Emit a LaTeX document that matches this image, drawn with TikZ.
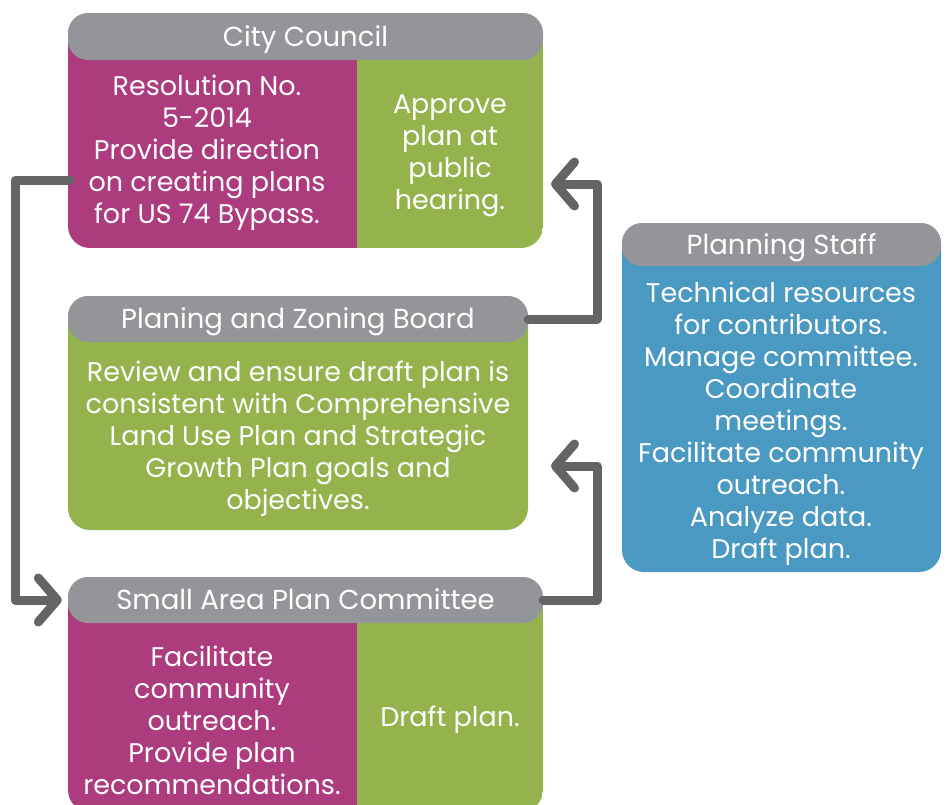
\documentclass[tikz,border=0pt]{standalone}
\usepackage{fontspec}
\setmainfont{Poppins}
\usetikzlibrary{arrows.meta}
\definecolor{hdgray}{HTML}{939598}
\definecolor{plum}{HTML}{AC3C7E}
\definecolor{leaf}{HTML}{94B34D}
\definecolor{sky}{HTML}{4A99C2}
\definecolor{wire}{HTML}{636466}
\tikzset{
  head/.style={fill=hdgray, rounded corners=20, text=white, inner sep=0,
    text height=19, text depth=0,
    font=\fontsize{27.5}{32}\selectfont},
  txt/.style={text=white, align=center, inner sep=0, yshift=-3,
    font=\fontsize{27}{32}\selectfont},
  link/.style={draw=wire, line width=9, line cap=round, line join=round,
    -{Straight Barb[length=19,width=44,round]}},
}
\begin{document}
\begin{tikzpicture}[x=1pt,y=-1pt]
\clip (0,0) rectangle (946,804);

% fixed points where the loops leave or enter a box
\coordinate (cc-out) at (70,180);
\coordinate (cc-in) at (551,184);
\coordinate (pz-in) at (551,466);

% City Council
\begin{scope}
  \clip[rounded corners=22] (68,13) rectangle (543,248);
  \fill[plum] (68,13) rectangle (357,248);
  \fill[leaf] (357,13) rectangle (543,248);
\end{scope}
\node[head, minimum width=475, minimum height=47] (cc-head) at (305.5,36.5) {City Council};
\node[txt] (cc-res) at (207,150) {Resolution No.\\5-2014\\Provide direction\\on creating plans\\for US 74 Bypass.};
\node[txt] (cc-app) at (450,153) {Approve\\plan at\\public\\hearing.};

% Planing and Zoning Board
\fill[leaf, rounded corners=22] (68,296) rectangle (528,530);
\node[head, minimum width=460, minimum height=46] (pz-head) at (298,319) {Planing and Zoning Board};
\node[txt] (pz-body) at (298,436) {Review and ensure draft plan is\\consistent with Comprehensive\\Land Use Plan and Strategic\\Growth Plan goals and\\objectives.};

% Small Area Plan Committee
\begin{scope}
  \clip[rounded corners=22] (68,577) rectangle (543,812);
  \fill[plum] (68,577) rectangle (357,812);
  \fill[leaf] (357,577) rectangle (543,812);
\end{scope}
\node[head, minimum width=475, minimum height=46] (sa-head) at (305.5,600) {Small Area Plan Committee};
\node[txt] (sa-out) at (212,717) {Facilitate\\community\\outreach.\\Provide plan\\recommendations.};
\node[txt] (sa-draft) at (450,717) {Draft plan.};

% Planning Staff
\fill[sky, rounded corners=22] (622,223) rectangle (941,572);
\node[head, minimum width=319, minimum height=43] (ps-head) at (781.5,244.5) {Planning Staff};
\node[txt] (ps-body) at (781,421) {Technical resources\\for contributors.\\Manage committee.\\Coordinate\\meetings.\\Facilitate community\\outreach.\\Analyze data.\\Draft plan.};

% flow connectors
\draw[link] (cc-out) -- (15,180) |- ([xshift=-6]sa-head.west);
\draw[link] (pz-head.east) -- (597,319) |- (cc-in);
\draw[link] (sa-head.east) -- (597,600) |- (pz-in);
\end{tikzpicture}
\end{document}
